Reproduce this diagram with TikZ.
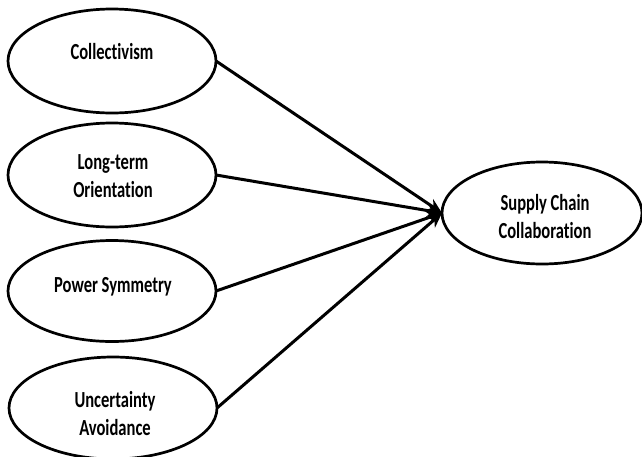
\documentclass[tikz,border=0pt]{standalone}
\usepackage{fontspec}
\setmainfont{Carlito}[FakeStretch=0.72, Ligatures={NoCommon}]
\usetikzlibrary{shapes.geometric,arrows.meta}
\tikzset{
  construct/.style={ellipse, draw, line width=2.7pt, inner sep=0pt, outer sep=0pt,
    minimum width=208pt, minimum height=104pt},
  lbl/.style={font=\fontsize{23}{28}\selectfont\bfseries, align=center, inner sep=0pt},
  path/.style={line width=3pt, -{Stealth[length=15pt,width=13pt]}}
}
\begin{document}
\begin{tikzpicture}[x=1pt,y=-1pt]
\useasboundingbox (0,0) rectangle (642,456);
\node[construct] (c) at (112,61) {};
\node[construct] (l) at (112,175) {};
\node[construct, minimum height=101pt] (p) at (112,291) {};
\node[construct, minimum height=102pt] (u) at (113,408) {};
\node[construct, minimum width=200pt, minimum height=102pt] (s) at (542,213) {};
\node[lbl] (ct) at (112,52) {Collectivism};
\node[lbl] (lt) at (113,176.5) {Long-term\\Orientation};
\node[lbl] (pt) at (113,286.5) {Power Symmetry};
\node[lbl] (ut) at (115,413.5) {Uncertainty\\Avoidance};
\node[lbl] (st) at (545,216.5) {Supply Chain\\Collaboration};
\draw[path] (c.east) -- (s.west);
\draw[path] (l.east) -- (s.west);
\draw[path] (p.east) -- (s.west);
\draw[path] (u.east) -- (s.west);
\end{tikzpicture}
\end{document}
